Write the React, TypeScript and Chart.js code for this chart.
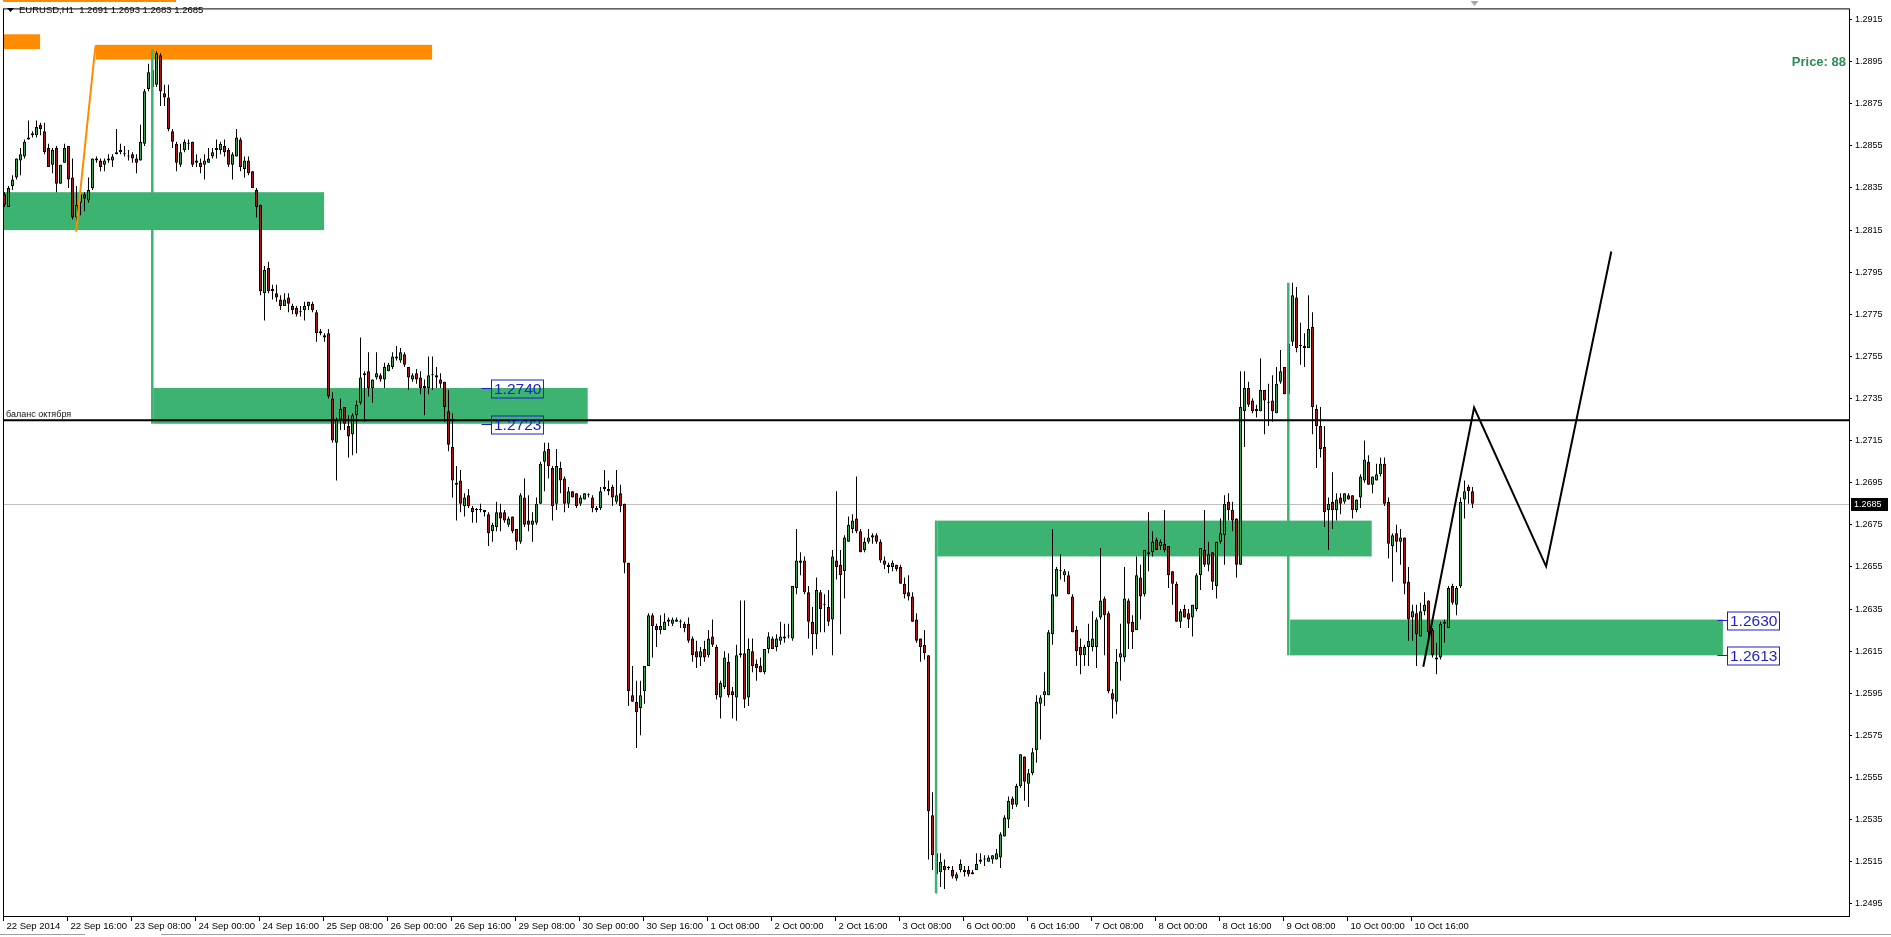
import React, { useEffect, useRef } from "react";
import { Chart, registerables } from "chart.js";

Chart.register(...registerables);

// ---------- DATA (EURUSD H1) ----------
const SYMBOL = "EURUSD,H1";

const OPEN = [
  1.2832,1.2826,1.2836,1.2840,1.2848,1.2850,1.2858,1.2860,1.2860,1.2865,
  1.2862,1.2854,1.2846,1.2854,1.2837,1.2847,1.2855,1.2840,1.2821,1.2828,
  1.2832,1.2829,1.2835,1.2848,1.2848,1.2846,1.2848,1.2848,1.2851,1.2852,
  1.2851,1.2850,1.2851,1.2849,1.2848,1.2856,1.2882,1.2891,1.2884,1.2898,
  1.2880,1.2878,1.2862,1.2856,1.2846,1.2853,1.2856,1.2857,1.2848,1.2847,
  1.2846,1.2847,1.2850,1.2853,1.2853,1.2855,1.2853,1.2846,1.2850,1.2858,
  1.2844,1.2848,1.2843,1.2834,1.2827,1.2785,1.2797,1.2787,1.2785,1.2782,
  1.2779,1.2783,1.2779,1.2778,1.2776,1.2777,1.2779,1.2780,1.2776,1.2767,
  1.2765,1.2766,1.2735,1.2714,1.2725,1.2731,1.2722,1.2718,1.2727,1.2733,
  1.2747,1.2748,1.2740,1.2745,1.2746,1.2744,1.2748,1.2750,1.2754,1.2753,
  1.2756,1.2750,1.2744,1.2747,1.2745,1.2741,1.2740,1.2746,1.2746,1.2744,
  1.2743,1.2729,1.2712,1.2695,1.2696,1.2684,1.2689,1.2683,1.2682,1.2682,
  1.2682,1.2680,1.2672,1.2674,1.2681,1.2681,1.2675,1.2679,1.2673,1.2667,
  1.2688,1.2677,1.2675,1.2676,1.2685,1.2705,1.2711,1.2702,1.2685,1.2702,
  1.2697,1.2685,1.2691,1.2690,1.2685,1.2687,1.2689,1.2688,1.2682,1.2683,
  1.2692,1.2692,1.2693,1.2686,1.2690,1.2685,1.2657,1.2594,1.2591,1.2588,
  1.2596,1.2608,1.2632,1.2627,1.2625,1.2625,1.2629,1.2628,1.2629,1.2629,
  1.2628,1.2628,1.2621,1.2615,1.2612,1.2616,1.2613,1.2622,1.2617,1.2593,
  1.2598,1.2610,1.2596,1.2593,1.2613,1.2614,1.2593,1.2615,1.2609,1.2608,
  1.2605,1.2616,1.2621,1.2617,1.2620,1.2621,1.2622,1.2621,1.2645,1.2658,
  1.2658,1.2643,1.2629,1.2623,1.2643,1.2637,1.2636,1.2630,1.2658,1.2656,
  1.2653,1.2667,1.2673,1.2678,1.2672,1.2663,1.2667,1.2669,1.2670,1.2667,
  1.2658,1.2656,1.2655,1.2656,1.2655,1.2647,1.2643,1.2641,1.2630,1.2621,
  1.2618,1.2613,1.2537,1.2519,1.2510,1.2513,1.2512,1.2511,1.2507,1.2511,
  1.2511,1.2511,1.2510,1.2511,1.2515,1.2516,1.2515,1.2516,1.2516,1.2517,
  1.2527,1.2535,1.2545,1.2542,1.2551,1.2565,1.2552,1.2557,1.2568,1.2590,
  1.2594,1.2594,1.2623,1.2641,1.2653,1.2651,1.2651,1.2641,1.2625,1.2617,
  1.2613,1.2617,1.2617,1.2617,1.2631,1.2640,1.2633,1.2595,1.2591,1.2612,
  1.2612,1.2639,1.2629,1.2625,1.2650,1.2642,1.2662,1.2662,1.2668,1.2665,
  1.2666,1.2665,1.2653,1.2647,1.2629,1.2635,1.2633,1.2631,1.2635,1.2651,
  1.2663,1.2656,1.2662,1.2646,1.2667,1.2670,1.2686,1.2682,1.2678,1.2656,
  1.2729,1.2740,1.2734,1.2730,1.2729,1.2739,1.2733,1.2734,1.2728,1.2743,
  1.2750,1.2737,1.2762,1.2783,1.2760,1.2760,1.2759,1.2769,1.2730,1.2722,
  1.2712,1.2682,1.2686,1.2682,1.2688,1.2686,1.2689,1.2689,1.2682,1.2688,
  1.2696,1.2705,1.2694,1.2696,1.2699,1.2704,1.2686,1.2665,1.2671,1.2667,
  1.2669,1.2648,1.2631,1.2633,1.2622,1.2634,1.2639,1.2625,1.2612,1.2612,
  1.2628,1.2626,1.2646,1.2637,1.2646,1.2687,1.2693,1.2691,
];

const HIGH = [
  1.2833,1.2836,1.2841,1.2849,1.2854,1.2858,1.2867,1.2862,1.2867,1.2866,
  1.2866,1.2856,1.2854,1.2855,1.2846,1.2856,1.2855,1.2849,1.2836,1.2836,
  1.2833,1.2840,1.2849,1.2850,1.2849,1.2849,1.2851,1.2851,1.2863,1.2856,
  1.2855,1.2853,1.2852,1.2851,1.2865,1.2882,1.2894,1.2894,1.2900,1.2899,
  1.2884,1.2884,1.2863,1.2857,1.2856,1.2858,1.2858,1.2857,1.2851,1.2849,
  1.2851,1.2854,1.2854,1.2858,1.2857,1.2858,1.2854,1.2852,1.2863,1.2859,
  1.2850,1.2850,1.2843,1.2835,1.2827,1.2798,1.2800,1.2789,1.2789,1.2784,
  1.2785,1.2785,1.2780,1.2779,1.2779,1.2781,1.2781,1.2781,1.2777,1.2768,
  1.2766,1.2768,1.2738,1.2726,1.2735,1.2731,1.2727,1.2728,1.2734,1.2764,
  1.2748,1.2757,1.2744,1.2757,1.2747,1.2752,1.2752,1.2757,1.2760,1.2759,
  1.2757,1.2750,1.2747,1.2749,1.2748,1.2744,1.2755,1.2755,1.2750,1.2747,
  1.2743,1.2739,1.2728,1.2703,1.2701,1.2690,1.2692,1.2684,1.2683,1.2685,
  1.2682,1.2681,1.2676,1.2686,1.2685,1.2682,1.2679,1.2679,1.2673,1.2690,
  1.2697,1.2689,1.2681,1.2688,1.2705,1.2714,1.2714,1.2703,1.2711,1.2705,
  1.2698,1.2693,1.2691,1.2690,1.2689,1.2690,1.2690,1.2689,1.2684,1.2693,
  1.2701,1.2696,1.2694,1.2701,1.2694,1.2685,1.2657,1.2608,1.2601,1.2601,
  1.2608,1.2633,1.2633,1.2628,1.2632,1.2633,1.2631,1.2631,1.2631,1.2630,
  1.2629,1.2631,1.2622,1.2620,1.2617,1.2620,1.2625,1.2630,1.2618,1.2601,
  1.2615,1.2614,1.2598,1.2618,1.2639,1.2639,1.2621,1.2621,1.2611,1.2612,
  1.2616,1.2624,1.2622,1.2623,1.2629,1.2628,1.2628,1.2646,1.2673,1.2662,
  1.2660,1.2646,1.2636,1.2650,1.2644,1.2642,1.2644,1.2663,1.2691,1.2663,
  1.2670,1.2679,1.2680,1.2698,1.2673,1.2669,1.2673,1.2671,1.2671,1.2668,
  1.2660,1.2657,1.2658,1.2656,1.2656,1.2650,1.2651,1.2643,1.2633,1.2621,
  1.2625,1.2613,1.2548,1.2520,1.2519,1.2516,1.2513,1.2513,1.2510,1.2516,
  1.2513,1.2513,1.2511,1.2519,1.2519,1.2518,1.2518,1.2518,1.2521,1.2529,
  1.2537,1.2546,1.2546,1.2552,1.2566,1.2565,1.2559,1.2569,1.2594,1.2594,
  1.2605,1.2625,1.2673,1.2655,1.2661,1.2654,1.2653,1.2642,1.2627,1.2621,
  1.2618,1.2628,1.2634,1.2631,1.2664,1.2641,1.2634,1.2597,1.2616,1.2628,
  1.2655,1.2640,1.2632,1.2660,1.2656,1.2663,1.2681,1.2672,1.2669,1.2668,
  1.2682,1.2665,1.2653,1.2648,1.2635,1.2637,1.2635,1.2637,1.2652,1.2664,
  1.2682,1.2667,1.2662,1.2667,1.2678,1.2689,1.2690,1.2686,1.2678,1.2748,
  1.2748,1.2743,1.2735,1.2732,1.2754,1.2739,1.2742,1.2746,1.2750,1.2758,
  1.2750,1.2767,1.2790,1.2788,1.2771,1.2766,1.2784,1.2776,1.2732,1.2731,
  1.2722,1.2688,1.2700,1.2690,1.2690,1.2690,1.2690,1.2689,1.2687,1.2699,
  1.2715,1.2708,1.2698,1.2704,1.2707,1.2707,1.2688,1.2671,1.2675,1.2673,
  1.2669,1.2655,1.2637,1.2637,1.2638,1.2643,1.2639,1.2626,1.2619,1.2629,
  1.2630,1.2646,1.2647,1.2646,1.2688,1.2696,1.2694,1.2693,
];

const LOW = [
  1.2826,1.2826,1.2834,1.2839,1.2841,1.2849,1.2858,1.2859,1.2859,1.2860,
  1.2851,1.2845,1.2842,1.2833,1.2837,1.2847,1.2835,1.2820,1.2819,1.2822,
  1.2824,1.2828,1.2834,1.2847,1.2843,1.2843,1.2847,1.2845,1.2851,1.2851,
  1.2850,1.2848,1.2847,1.2842,1.2848,1.2855,1.2881,1.2877,1.2883,1.2874,
  1.2874,1.2862,1.2854,1.2843,1.2845,1.2852,1.2853,1.2845,1.2845,1.2842,
  1.2839,1.2847,1.2849,1.2849,1.2851,1.2850,1.2845,1.2839,1.2850,1.2843,
  1.2840,1.2841,1.2835,1.2821,1.2784,1.2772,1.2785,1.2782,1.2781,1.2777,
  1.2779,1.2776,1.2775,1.2774,1.2774,1.2772,1.2777,1.2776,1.2762,1.2765,
  1.2762,1.2735,1.2714,1.2696,1.2720,1.2720,1.2707,1.2708,1.2709,1.2732,
  1.2724,1.2736,1.2733,1.2744,1.2743,1.2740,1.2748,1.2749,1.2753,1.2752,
  1.2750,1.2739,1.2743,1.2742,1.2737,1.2727,1.2737,1.2739,1.2740,1.2740,
  1.2724,1.2710,1.2688,1.2677,1.2681,1.2679,1.2683,1.2676,1.2676,1.2681,
  1.2679,1.2665,1.2667,1.2672,1.2672,1.2676,1.2674,1.2671,1.2663,1.2666,
  1.2674,1.2672,1.2667,1.2675,1.2685,1.2691,1.2697,1.2677,1.2682,1.2690,
  1.2681,1.2683,1.2688,1.2683,1.2684,1.2687,1.2688,1.2681,1.2681,1.2682,
  1.2691,1.2689,1.2684,1.2685,1.2681,1.2652,1.2589,1.2591,1.2569,1.2575,
  1.2590,1.2608,1.2612,1.2617,1.2623,1.2625,1.2627,1.2627,1.2629,1.2626,
  1.2624,1.2619,1.2610,1.2607,1.2608,1.2610,1.2612,1.2617,1.2592,1.2583,
  1.2597,1.2593,1.2583,1.2582,1.2612,1.2588,1.2589,1.2605,1.2601,1.2605,
  1.2604,1.2614,1.2616,1.2615,1.2618,1.2619,1.2621,1.2620,1.2642,1.2651,
  1.2642,1.2621,1.2613,1.2616,1.2624,1.2624,1.2627,1.2613,1.2649,1.2623,
  1.2640,1.2667,1.2671,1.2671,1.2662,1.2662,1.2666,1.2666,1.2666,1.2657,
  1.2654,1.2652,1.2653,1.2653,1.2647,1.2640,1.2639,1.2629,1.2619,1.2610,
  1.2611,1.2516,1.2511,1.2500,1.2503,1.2502,1.2511,1.2507,1.2506,1.2510,
  1.2508,1.2508,1.2509,1.2511,1.2514,1.2513,1.2515,1.2514,1.2516,1.2512,
  1.2527,1.2531,1.2540,1.2541,1.2550,1.2544,1.2541,1.2556,1.2562,1.2573,
  1.2589,1.2594,1.2618,1.2641,1.2649,1.2648,1.2642,1.2624,1.2608,1.2604,
  1.2608,1.2608,1.2615,1.2607,1.2630,1.2613,1.2595,1.2583,1.2585,1.2601,
  1.2610,1.2616,1.2616,1.2625,1.2630,1.2641,1.2653,1.2660,1.2663,1.2663,
  1.2662,1.2645,1.2637,1.2629,1.2626,1.2631,1.2626,1.2622,1.2634,1.2644,
  1.2655,1.2653,1.2644,1.2640,1.2666,1.2656,1.2677,1.2672,1.2650,1.2656,
  1.2712,1.2731,1.2728,1.2726,1.2729,1.2718,1.2722,1.2724,1.2728,1.2742,
  1.2737,1.2729,1.2760,1.2757,1.2751,1.2750,1.2759,1.2718,1.2702,1.2707,
  1.2674,1.2663,1.2673,1.2677,1.2680,1.2685,1.2687,1.2678,1.2681,1.2683,
  1.2695,1.2694,1.2690,1.2696,1.2698,1.2684,1.2659,1.2648,1.2662,1.2656,
  1.2642,1.2620,1.2620,1.2608,1.2622,1.2632,1.2619,1.2612,1.2604,1.2611,
  1.2619,1.2626,1.2637,1.2632,1.2645,1.2678,1.2685,1.2683,
];

const CLOSE = [
  1.2827,1.2835,1.2839,1.2849,1.2851,1.2857,1.2859,1.2861,1.2864,1.2863,
  1.2852,1.2845,1.2853,1.2837,1.2846,1.2854,1.2839,1.2821,1.2827,1.2832,
  1.2830,1.2834,1.2849,1.2849,1.2845,1.2848,1.2849,1.2850,1.2852,1.2853,
  1.2851,1.2850,1.2849,1.2847,1.2857,1.2881,1.2890,1.2883,1.2899,1.2881,
  1.2878,1.2863,1.2857,1.2847,1.2852,1.2857,1.2856,1.2846,1.2847,1.2845,
  1.2848,1.2849,1.2852,1.2854,1.2856,1.2852,1.2846,1.2851,1.2859,1.2845,
  1.2848,1.2842,1.2835,1.2826,1.2786,1.2796,1.2786,1.2786,1.2783,1.2779,
  1.2782,1.2780,1.2777,1.2775,1.2776,1.2779,1.2781,1.2777,1.2766,1.2766,
  1.2764,1.2736,1.2715,1.2725,1.2730,1.2723,1.2717,1.2727,1.2732,1.2745,
  1.2746,1.2740,1.2744,1.2747,1.2744,1.2750,1.2751,1.2755,1.2755,1.2757,
  1.2751,1.2745,1.2746,1.2744,1.2740,1.2740,1.2746,1.2746,1.2745,1.2742,
  1.2731,1.2713,1.2696,1.2694,1.2685,1.2688,1.2684,1.2681,1.2682,1.2682,
  1.2681,1.2671,1.2675,1.2681,1.2678,1.2677,1.2678,1.2672,1.2667,1.2689,
  1.2675,1.2675,1.2677,1.2685,1.2704,1.2710,1.2703,1.2684,1.2703,1.2696,
  1.2685,1.2691,1.2688,1.2684,1.2688,1.2690,1.2689,1.2683,1.2683,1.2691,
  1.2693,1.2691,1.2688,1.2689,1.2684,1.2657,1.2596,1.2591,1.2586,1.2594,
  1.2608,1.2632,1.2627,1.2625,1.2627,1.2629,1.2630,1.2630,1.2630,1.2629,
  1.2626,1.2620,1.2613,1.2612,1.2615,1.2612,1.2621,1.2618,1.2594,1.2600,
  1.2612,1.2594,1.2594,1.2613,1.2614,1.2592,1.2616,1.2608,1.2607,1.2605,
  1.2616,1.2622,1.2616,1.2621,1.2622,1.2622,1.2622,1.2646,1.2658,1.2657,
  1.2643,1.2629,1.2623,1.2644,1.2635,1.2637,1.2629,1.2660,1.2655,1.2651,
  1.2669,1.2675,1.2677,1.2672,1.2662,1.2667,1.2669,1.2670,1.2667,1.2658,
  1.2656,1.2655,1.2657,1.2654,1.2647,1.2642,1.2641,1.2629,1.2620,1.2617,
  1.2614,1.2539,1.2518,1.2509,1.2515,1.2511,1.2512,1.2508,1.2509,1.2514,
  1.2510,1.2509,1.2509,1.2514,1.2516,1.2516,1.2517,1.2518,1.2519,1.2528,
  1.2536,1.2544,1.2542,1.2551,1.2566,1.2553,1.2557,1.2567,1.2591,1.2593,
  1.2596,1.2624,1.2642,1.2654,1.2653,1.2653,1.2642,1.2624,1.2615,1.2613,
  1.2617,1.2620,1.2621,1.2630,1.2639,1.2632,1.2596,1.2592,1.2610,1.2614,
  1.2640,1.2628,1.2624,1.2651,1.2641,1.2663,1.2661,1.2667,1.2663,1.2667,
  1.2663,1.2651,1.2647,1.2629,1.2634,1.2631,1.2630,1.2637,1.2651,1.2664,
  1.2656,1.2661,1.2648,1.2667,1.2671,1.2685,1.2682,1.2677,1.2656,1.2731,
  1.2740,1.2732,1.2729,1.2729,1.2739,1.2734,1.2733,1.2729,1.2742,1.2748,
  1.2737,1.2761,1.2784,1.2759,1.2760,1.2759,1.2768,1.2731,1.2722,1.2711,
  1.2681,1.2685,1.2682,1.2687,1.2685,1.2690,1.2687,1.2682,1.2687,1.2698,
  1.2706,1.2694,1.2698,1.2699,1.2704,1.2685,1.2666,1.2670,1.2667,1.2669,
  1.2647,1.2630,1.2634,1.2623,1.2634,1.2637,1.2624,1.2613,1.2611,1.2628,
  1.2629,1.2645,1.2638,1.2645,1.2686,1.2691,1.2691,1.2685,
];

const TIME_LABELS = [
  "22 Sep 2014", "22 Sep 16:00", "23 Sep 08:00", "24 Sep 00:00", "24 Sep 16:00",
  "25 Sep 08:00", "26 Sep 00:00", "26 Sep 16:00", "29 Sep 08:00", "30 Sep 00:00",
  "30 Sep 16:00", "1 Oct 08:00", "2 Oct 00:00", "2 Oct 16:00", "3 Oct 08:00",
  "6 Oct 00:00", "6 Oct 16:00", "7 Oct 08:00", "8 Oct 00:00", "8 Oct 16:00",
  "9 Oct 08:00", "10 Oct 00:00", "10 Oct 16:00",
];
const BARS_PER_TIME_LABEL = 16;

const PRICE_TICKS = [
  1.2495, 1.2515, 1.2535, 1.2555, 1.2575, 1.2595, 1.2615, 1.2635, 1.2655, 1.2675,
  1.2695, 1.2715, 1.2735, 1.2755, 1.2775, 1.2795, 1.2815, 1.2835, 1.2855, 1.2875,
  1.2895, 1.2915,
];

// visible range of the chart window
const BAR_MIN = -0.375;
const BAR_MAX = 461.125;
const PRICE_MIN = 1.24892;
const PRICE_MAX = 1.29203;

// drawn objects (bar index / price coordinates)
const DEMAND_ZONES = [
  { from: -2, to: 79.9, top: 1.2833, bottom: 1.2815 },
  { from: 37.2, to: 145.8, top: 1.2740, bottom: 1.2723 },
  { from: 233.2, to: 341.8, top: 1.2677, bottom: 1.2660 },
  { from: 321.4, to: 429.6, top: 1.2630, bottom: 1.2613 },
];
const ZONE_MARKERS = [
  { bar: 36.95, top: 1.2901, bottom: 1.2723 },
  { bar: 232.9, top: 1.2677, bottom: 1.2500 },
  { bar: 320.95, top: 1.2790, bottom: 1.2613 },
];
const ORANGE_ZONES = [
  { from: -2, to: 8.9, top: 1.2908, bottom: 1.2901 },
  { from: 22.8, to: 106.9, top: 1.2903, bottom: 1.2896 },
];
const ORANGE_TREND_BARS = [17.9, 22.45, 22.8];
const ORANGE_TREND_PRICES = [1.28143, 1.28974, 1.29027];
const FORECAST_BARS = [354.7, 367.4, 385.4, 401.7];
const FORECAST_PRICES = [1.26076, 1.27307, 1.26553, 1.28048];
const BALANCE_LEVEL = 1.27247;
const BALANCE_LABEL = "баланс октября";
const PRICE_TAGS = [
  { price: 1.2740, bar: 121.6 },
  { price: 1.2723, bar: 121.6 },
  { price: 1.2630, bar: 430.6 },
  { price: 1.2613, bar: 430.6 },
];
const INFO_TEXT = "Price: 88";

const FONT = "'Liberation Sans', Arial, sans-serif";
const BULL = "#3d9e4e";
const BEAR = "#a31a1a";
const ZONE_GREEN = "#3cb371";
const ORANGE = "#ff8c00";
const TAG_BLUE = "#1f1fc8";

const overlayPlugin = {
  id: "mt4Overlay",
  beforeDatasetsDraw(chart: any) {
    const { ctx, chartArea: a } = chart;
    const xs = chart.scales.x;
    const ys = chart.scales.y;
    const X = (v: number) => xs.getPixelForValue(v);
    const Y = (v: number) => ys.getPixelForValue(v);
    ctx.save();
    ctx.beginPath();
    ctx.rect(a.left, a.top, a.right - a.left, a.bottom - a.top);
    ctx.clip();
    // current price line
    const lp = Math.round(Y(CLOSE[CLOSE.length - 1])) + 0.5;
    ctx.strokeStyle = "#c0c0c0";
    ctx.lineWidth = 1;
    ctx.beginPath();
    ctx.moveTo(a.left, lp);
    ctx.lineTo(a.right, lp);
    ctx.stroke();
    // zones
    ctx.fillStyle = ZONE_GREEN;
    DEMAND_ZONES.forEach((z) => {
      const x0 = X(z.from), x1 = X(z.to), y0 = Y(z.top), y1 = Y(z.bottom);
      ctx.fillRect(x0, y0, x1 - x0, y1 - y0);
    });
    ctx.fillStyle = ORANGE;
    ORANGE_ZONES.forEach((z) => {
      const x0 = X(z.from), x1 = X(z.to), y0 = Y(z.top), y1 = Y(z.bottom);
      ctx.fillRect(x0, y0, x1 - x0, y1 - y0);
    });
    ctx.restore();
  },
  afterDatasetsDraw(chart: any) {
    const { ctx, chartArea: a } = chart;
    const xs = chart.scales.x;
    const ys = chart.scales.y;
    const X = (v: number) => xs.getPixelForValue(v);
    const Y = (v: number) => ys.getPixelForValue(v);
    ctx.save();
    ctx.beginPath();
    ctx.rect(a.left, a.top, a.right - a.left, a.bottom - a.top);
    ctx.clip();

    // vertical zone markers
    ctx.strokeStyle = ZONE_GREEN;
    ctx.lineWidth = 2.5;
    ZONE_MARKERS.forEach((m) => {
      ctx.beginPath();
      ctx.moveTo(X(m.bar), Y(m.top));
      ctx.lineTo(X(m.bar), Y(m.bottom));
      ctx.stroke();
    });

    // balance line
    const by = Y(BALANCE_LEVEL);
    ctx.strokeStyle = "#000";
    ctx.lineWidth = 2;
    ctx.beginPath();
    ctx.moveTo(a.left, by);
    ctx.lineTo(a.right, by);
    ctx.stroke();
    ctx.fillStyle = "#111";
    ctx.font = `9px ${FONT}`;
    ctx.textAlign = "left";
    ctx.textBaseline = "alphabetic";
    ctx.fillText(BALANCE_LABEL, a.left + 3, by - 3);

    // orange trend line
    ctx.strokeStyle = ORANGE;
    ctx.lineWidth = 2;
    ctx.beginPath();
    ORANGE_TREND_BARS.forEach((b, i) => {
      const px = X(b), py = Y(ORANGE_TREND_PRICES[i]);
      if (i === 0) ctx.moveTo(px, py); else ctx.lineTo(px, py);
    });
    ctx.stroke();

    // forecast zigzag
    ctx.strokeStyle = "#000";
    ctx.lineWidth = 2;
    ctx.lineJoin = "miter";
    ctx.beginPath();
    FORECAST_BARS.forEach((b, i) => {
      const px = X(b), py = Y(FORECAST_PRICES[i]);
      if (i === 0) ctx.moveTo(px, py); else ctx.lineTo(px, py);
    });
    ctx.stroke();

    // price tags
    ctx.font = `15.5px ${FONT}`;
    ctx.textBaseline = "middle";
    PRICE_TAGS.forEach((t) => {
      const py = Math.round(Y(t.price)) + 0.5;
      const bx = Math.round(X(t.bar)) + 0.5;
      ctx.strokeStyle = TAG_BLUE;
      ctx.lineWidth = 1;
      ctx.beginPath();
      ctx.moveTo(bx - 10, py);
      ctx.lineTo(bx, py);
      ctx.stroke();
      const label = t.price.toFixed(4);
      const w = 52, h = 18;
      ctx.strokeRect(bx, py - h / 2 + 0.5, w, h);
      ctx.fillStyle = TAG_BLUE;
      ctx.fillText(label, bx + 2.5, py + 1.5);
    });

    // info text
    ctx.font = `bold 13px ${FONT}`;
    ctx.fillStyle = "#2e8b57";
    ctx.textAlign = "right";
    ctx.textBaseline = "middle";
    ctx.fillText(INFO_TEXT, a.right - 3, 62);

    ctx.restore();
  },
  afterDraw(chart: any) {
    const { ctx, chartArea: a, width, height } = chart;
    const xs = chart.scales.x;
    const ys = chart.scales.y;
    const X = (v: number) => xs.getPixelForValue(v);
    const Y = (v: number) => ys.getPixelForValue(v);
    ctx.save();

    // frame
    ctx.strokeStyle = "#000";
    ctx.lineWidth = 1;
    ctx.strokeRect(a.left + 0.5, a.top + 0.5, a.right - a.left, a.bottom - a.top);

    // time axis
    ctx.font = `9.5px ${FONT}`;
    ctx.fillStyle = "#000";
    ctx.textAlign = "left";
    ctx.textBaseline = "middle";
    TIME_LABELS.forEach((lab, i) => {
      const tx = Math.floor(X(i * BARS_PER_TIME_LABEL)) - 0.5;
      ctx.beginPath();
      ctx.moveTo(tx, a.bottom);
      ctx.lineTo(tx, a.bottom + 5);
      ctx.stroke();
      ctx.fillText(lab, tx + 3, a.bottom + 10);
    });

    // current price box on axis
    const last = CLOSE[CLOSE.length - 1];
    const ly = Math.round(Y(last));
    ctx.font = `9px ${FONT}`;
    ctx.fillStyle = "#000";
    ctx.fillRect(a.right + 2, ly - 6, 37, 13);
    ctx.fillStyle = "#fff";
    ctx.fillText(last.toFixed(4), a.right + 5, ly + 0.5);

    // header
    const n = OPEN.length - 1;
    ctx.fillStyle = "#000";
    ctx.beginPath();
    ctx.moveTo(7, 8);
    ctx.lineTo(14, 8);
    ctx.lineTo(10.5, 12);
    ctx.closePath();
    ctx.fill();
    ctx.font = `9.5px ${FONT}`;
    ctx.fillText(
      `${SYMBOL}  ${OPEN[n].toFixed(4)} ${HIGH[n].toFixed(4)} ${LOW[n].toFixed(4)} ${CLOSE[n].toFixed(4)}`,
      19, 10
    );
    // top orange strip + shift marker
    ctx.fillStyle = ORANGE;
    ctx.fillRect(3, 0, 173, 2);
    ctx.fillStyle = "#a8a8a8";
    ctx.beginPath();
    ctx.moveTo(X(366.5), 1);
    ctx.lineTo(X(368.5), 1);
    ctx.lineTo(X(367.5), 6);
    ctx.closePath();
    ctx.fill();

    // bottom tab line
    ctx.strokeStyle = "#a0a0a0";
    ctx.beginPath();
    ctx.moveTo(0, height - 2.5);
    ctx.lineTo(85, height - 2.5);
    ctx.moveTo(161, height - 2.5);
    ctx.lineTo(width, height - 2.5);
    ctx.stroke();
    ctx.restore();
  },
};

export default function App() {
  const ref = useRef<HTMLCanvasElement | null>(null);

  useEffect(() => {
    if (!ref.current) return;
    const bodies = OPEN.map((o, i) => ({ x: i, y: [o, CLOSE[i]] }));
    const wicks = LOW.map((l, i) => ({ x: i, y: [l, HIGH[i]] }));
    const colors = OPEN.map((o, i) => (CLOSE[i] >= o ? BULL : BEAR));

    const chart = new Chart(ref.current, {
      type: "bar",
      data: {
        datasets: [
          {
            label: "body",
            data: bodies as any,
            backgroundColor: colors,
            borderColor: "#000",
            borderWidth: 1,
            borderSkipped: false,
            barThickness: 3,
            minBarLength: 1,
            grouped: false,
            inflateAmount: 0,
            order: 0,
          } as any,
          {
            label: "wick",
            data: wicks as any,
            backgroundColor: "#000",
            borderWidth: 0,
            barThickness: 1,
            grouped: false,
            inflateAmount: 0,
            order: 1,
          } as any,
        ],
      },
      options: {
        responsive: false,
        devicePixelRatio: 1,
        animation: false,
        events: [],
        layout: { padding: { left: 3, top: 2, right: 0, bottom: 21 } },
        plugins: { legend: { display: false }, tooltip: { enabled: false } },
        scales: {
          x: {
            type: "linear",
            min: BAR_MIN,
            max: BAR_MAX,
            offset: false,
            display: false,
          },
          y: {
            type: "linear",
            position: "right",
            min: PRICE_MIN,
            max: PRICE_MAX,
            afterBuildTicks: (s: any) => {
              s.ticks = PRICE_TICKS.map((v) => ({ value: v }));
            },
            afterFit: (s: any) => {
              s.width = 42;
            },
            ticks: {
              autoSkip: false,
              padding: 3,
              color: "#000",
              font: { family: FONT, size: 9 },
              callback: (v: any) => Number(v).toFixed(4),
            },
            grid: { drawOnChartArea: false, drawTicks: true, tickLength: 3, color: "#000" },
            border: { display: false },
          },
        },
      },
      plugins: [overlayPlugin],
    } as any);
    return () => chart.destroy();
  }, []);

  return (
    <div style={{ position: "fixed", left: 0, top: 0, width: 1891, height: 937, background: "#fff" }}>
      <canvas ref={ref} width={1891} height={937} style={{ display: "block" }} />
    </div>
  );
}
